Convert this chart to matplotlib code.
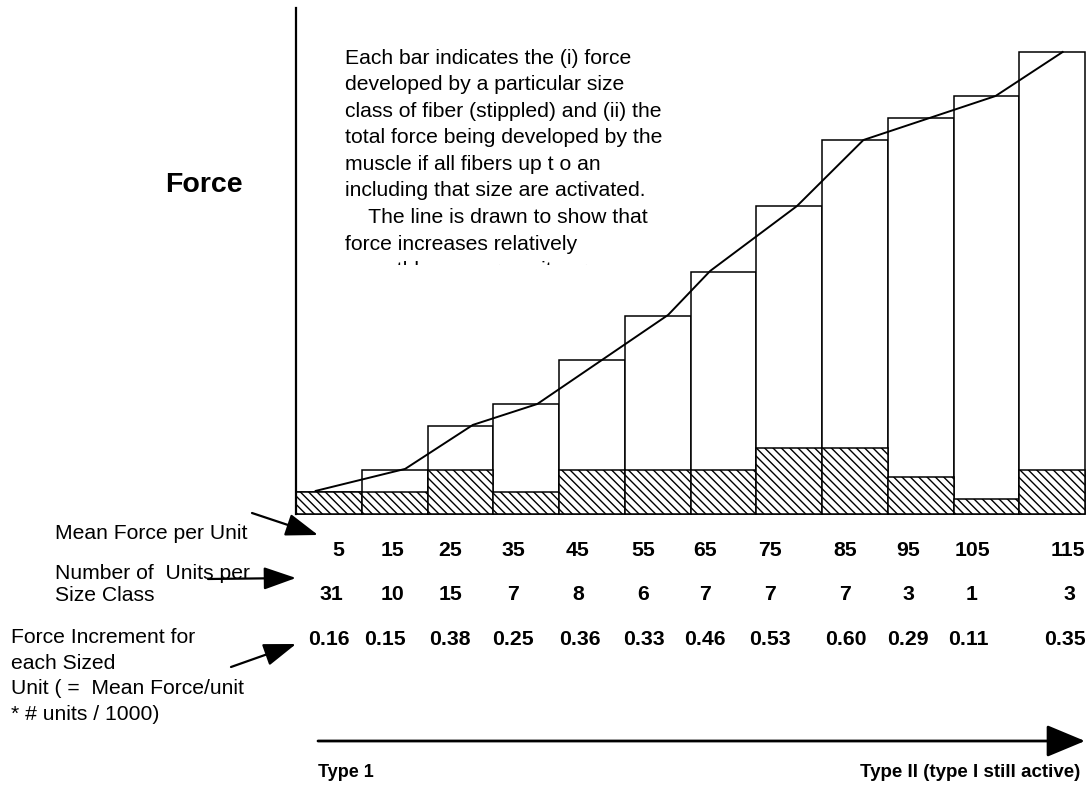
import matplotlib
matplotlib.use('Agg')
import matplotlib.pyplot as plt
from matplotlib.patches import FancyArrowPatch
from matplotlib.transforms import Bbox, TransformedBbox

plt.rcParams['font.family'] = ['Liberation Sans', 'DejaVu Sans']
plt.rcParams['hatch.linewidth'] = 1.0

# ---------------- data ----------------
mean_force = ['5', '15', '25', '35', '45', '55', '65', '75', '85', '95', '105', '115']
n_units = ['31', '10', '15', '7', '8', '6', '7', '7', '7', '3', '1', '3']
increments = ['0.16', '0.15', '0.38', '0.25', '0.36', '0.33', '0.46', '0.53',
              '0.60', '0.29', '0.11', '0.35']
# cumulative (total) force per size class, in arbitrary bar units
total_force = [1, 2, 4, 5, 7, 9, 11, 14, 17, 18, 19, 21]
# force of the particular size class (stippled part)
class_force = [1, 1, 2, 1, 2, 2, 2, 3, 3, 1.7, 0.7, 2]
# smoothing line drawn through the bar tops
line_x = [-0.2, 1.16, 2.19, 3.17, 5.16, 5.8, 7.12, 8.13, 10.14, 11.16]
line_y = [1.05, 2.05, 4.05, 5.0, 9.05, 11.05, 14.0, 17.0, 19.0, 21.0]

note_lines = ["Each bar indicates the (i) force",
              "developed by a particular size",
              "class of fiber (stippled) and (ii) the",
              "total force being developed by the",
              "muscle if all fibers up t o an",
              "including that size are activated.",
              "    The line is drawn to show that",
              "force increases relatively",
              "smoothly as more units are"]

# ---------------- layout ----------------
W, H = 1087, 786
def fx(px):
    return px / W
def fy(py):
    return 1 - py / H

fig = plt.figure(figsize=(W / 100, H / 100), dpi=100)
ax = fig.add_axes([fx(296), fy(514), (1085 - 296) / W, (514 - 8) / H])
ax.set_xlim(-0.5, 11.5)
ax.set_ylim(0, 23)
for s in ['top', 'right', 'bottom']:
    ax.spines[s].set_visible(False)
ax.spines['left'].set_linewidth(1.6)
ax.set_xticks([])
ax.set_yticks([])
ax.patch.set_alpha(0)

xs = list(range(len(total_force)))
ax.bar(xs, total_force, width=1.0, color='white', edgecolor='black',
       linewidth=1.1, clip_on=False)
ax.bar(xs, class_force, width=1.0, color='white', edgecolor='black',
       linewidth=1.1, hatch='\\\\\\\\', clip_on=False)
ax.plot(line_x, line_y, color='black', lw=1.4, clip_on=False)

# note text (last line clipped as in the original)
fs = 15.2
y0, dy = 63.5, 26.6
clipbox = TransformedBbox(Bbox.from_extents(0, fy(264.5), 1, 1), fig.transFigure)
for i, line in enumerate(note_lines):
    t = fig.text(fx(345), fy(y0 + i * dy), line, fontsize=fs,
                 ha='left', va='baseline')
    if i == len(note_lines) - 1:
        t.set_clip_box(clipbox)
        t.set_clip_on(True)

fig.text(fx(165), fy(192), 'Force', fontsize=20.5, fontweight='bold',
         ha='left', va='baseline')

# left labels
fig.text(fx(55), fy(539), 'Mean Force per Unit', fontsize=fs, va='baseline')
fig.text(fx(55), fy(579), 'Number of  Units per', fontsize=fs, va='baseline')
t = fig.text(fx(55), fy(601), 'Size Class', fontsize=fs, va='baseline')
t.set_clip_box(TransformedBbox(Bbox.from_extents(0, fy(603.5), 1, 1), fig.transFigure))
t.set_clip_on(True)
for i, s in enumerate(['Force Increment for', 'each Sized',
                       'Unit ( =  Mean Force/unit', '* # units / 1000)']):
    fig.text(fx(11), fy(643 + i * 25.7), s, fontsize=fs, va='baseline')

# number rows
row1_x = [338, 392, 450, 513, 578, 643, 705, 770, 845, 908, 972, 1068]
row2_x = [331, 393, 450, 513, 578, 643, 705, 770, 845, 908, 972, 1069]
row3_x = [329, 385, 450, 513, 580, 644, 705, 770, 846, 908, 968, 1065]
for vals, xpos, ypos in [(mean_force, row1_x, 555.7), (n_units, row2_x, 600),
                         (increments, row3_x, 645)]:
    for v, px in zip(vals, xpos):
        fig.text(fx(px), fy(ypos), v, fontsize=15.3, fontweight='bold',
                 ha='center', va='baseline')

# arrows
def arrow(p0, p1, hl=20, hw=7, lw=1.6):
    a = FancyArrowPatch((fx(p0[0]), fy(p0[1])), (fx(p1[0]), fy(p1[1])),
                        transform=fig.transFigure,
                        arrowstyle='-|>,head_length=%g,head_width=%g' % (hl, hw),
                        mutation_scale=1, lw=lw, color='black',
                        shrinkA=0, shrinkB=0)
    fig.add_artist(a)

arrow((252, 513), (318, 535))
arrow((208, 579), (296, 578))
arrow((231, 667), (296, 644))
arrow((318, 741), (1085, 741), hl=24, hw=10, lw=2.0)

fig.text(fx(318), fy(777), 'Type 1', fontsize=13, fontweight='bold',
         va='baseline')
fig.text(fx(1080), fy(777), 'Type II (type I still active)', fontsize=13.5,
         fontweight='bold', va='baseline', ha='right')

fig.savefig('out.png', dpi=100)
